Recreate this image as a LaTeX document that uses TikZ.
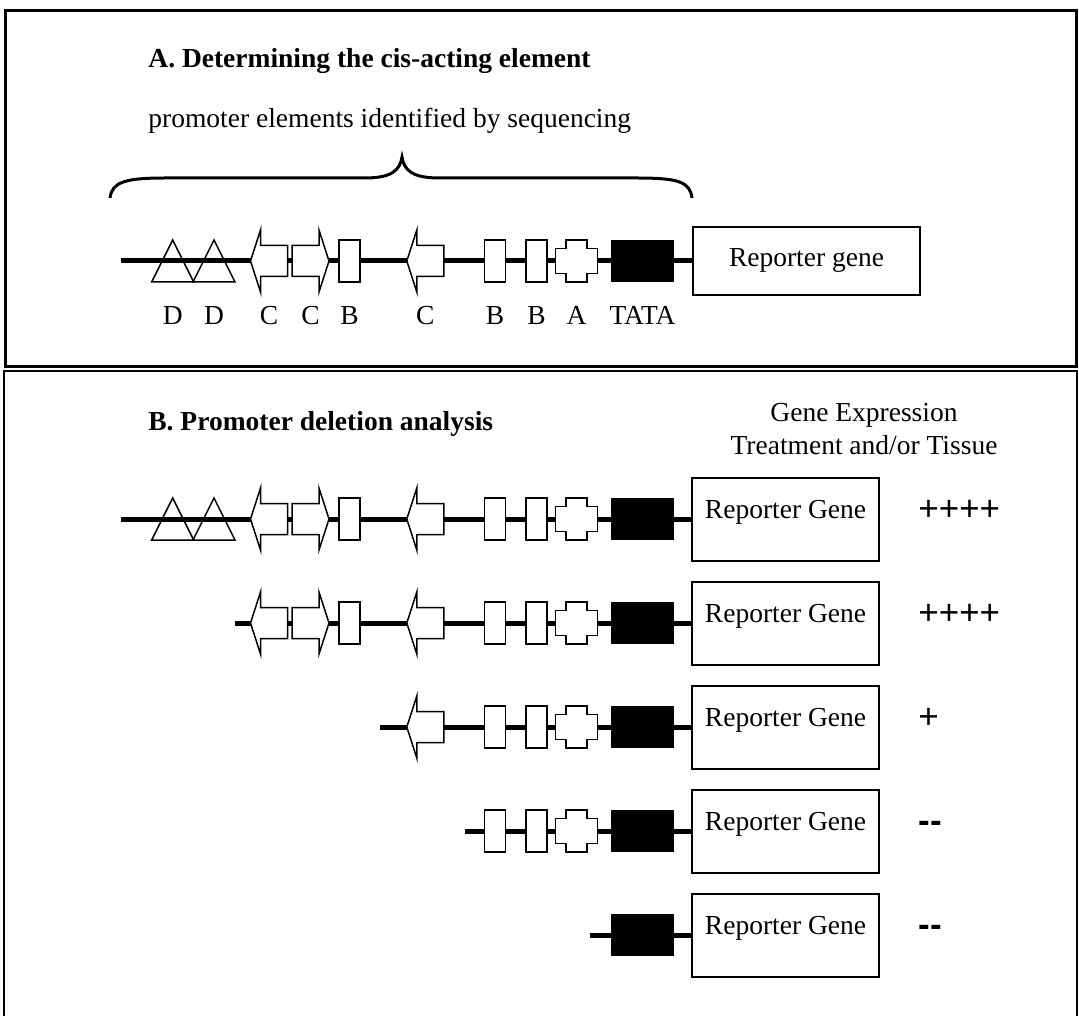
\documentclass[tikz,border=0pt]{standalone}
\usepackage{fontspec}
\setmainfont{Liberation Serif}
\newfontfamily\plusfont{Liberation Sans}
\usetikzlibrary{positioning,calc}
\newcommand{\labfont}{\fontsize{13.75}{16.5}\selectfont}
\newcommand{\pmfont}{\plusfont\fontsize{17.5}{20}\selectfont}
% element positions along the promoter (x / shape)
\def\elems{172.7/dtri,214/dtri,269/cleft,310.5/cright,349.5/bbox,425.3/cleft,495/bbox,536.5/bbox,576.5/across,642.5/tatabox}

\tikzset{
  dna/.style={line width=2.5pt},
  elem/.style={line width=0.75pt, fill=white},
  repbox/.style={draw, line width=1pt, minimum width=93.5pt, minimum height=41.5pt,
    text height=9pt, text depth=9.5pt, font=\labfont},
  txt/.style={inner sep=0pt, font=\labfont},
  pm/.style={inner sep=0pt, anchor=base west, font=\pmfont},
  dtri/.pic={\draw[line width=0.75pt] (-21,21) -- (0,-21) -- (21,21) -- cycle;},
  cleft/.pic={\draw[elem] (-18.5,0) -- (-8.5,-31) -- (-8.5,-15.5) -- (18.5,-15.5) -- (18.5,15.5) -- (-8.5,15.5) -- (-8.5,31) -- cycle;},
  cright/.pic={\draw[elem] (18.5,0) -- (8.5,-31) -- (8.5,-15.5) -- (-18.5,-15.5) -- (-18.5,15.5) -- (8.5,15.5) -- (8.5,31) -- cycle;},
  bbox/.pic={\draw[elem] (-10.5,-21) rectangle (10.5,21);},
  across/.pic={\draw[elem] (-21,-12.5) -- (-10.5,-12.5) -- (-10.5,-21) -- (10.5,-21) -- (10.5,-12.5) -- (21,-12.5) -- (21,12.5) -- (10.5,12.5) -- (10.5,21) -- (-10.5,21) -- (-10.5,12.5) -- (-21,12.5) -- cycle;},
  tatabox/.pic={\fill (-31.5,-21) rectangle (31.5,21);}
}

\begin{document}
\begin{tikzpicture}[x=0.5pt,y=-0.5pt]
\useasboundingbox (0,0) rectangle (1079,1015);
% frames
\draw[line width=1.5pt] (5,10.5) rectangle (1076,367);
\draw[line width=1pt] (4,1020) -- (4,371) -- (1077,371) -- (1077,1020);

% A. cis-acting element
\node[txt, anchor=base west, font=\labfont\bfseries] (titleA) at (148,68) {A. Determining the cis-acting element};
\node[txt, anchor=base west] (subA) at (148,128) {promoter elements identified by sequencing};
\draw[line width=1.5pt] (110,198) .. controls (112,182) and (125,178) .. (165,178) -- (365,178)
  .. controls (392,178) and (400,170) .. (402,157) .. controls (404,170) and (412,178) .. (439,178)
  -- (637,178) .. controls (679,178) and (690,182) .. (692,198);

\coordinate (sA) at (121,261);
\node[repbox, minimum width=113.5pt, minimum height=34pt, text depth=3pt] (repA) at (806.5,261) {Reporter gene};
\draw[dna] (sA) -- (repA);
\foreach \x/\e in \elems {\pic at (\x,261) {\e};}
\foreach \x/\t [count=\k] in {172.7/D,214/D,269/C,310.5/C,349.5/B,425.3/C,495/B,536.5/B,576.5/A,642.5/TATA}
  \node[txt, anchor=base] (lab\k) at (\x,325) {\t};

% B. deletion analysis
\node[txt, anchor=base west, font=\labfont\bfseries] (titleB) at (148,430) {B. Promoter deletion analysis};
\node[txt, anchor=base] (expr) at (864,421) {Gene Expression};
\node[txt, anchor=base] (treat) at (864,454) {Treatment and/or Tissue};

\foreach \y/\s/\m [count=\r] in {519/121/++++,623/235/++++,727/380/+,831/465/\bfseries-{}-,935/590/\bfseries-{}-} {
  \coordinate (s\r) at (\s,\y);
  \node[repbox] (rep\r) at (785.5,\y) {Reporter Gene};
  \draw[dna] (s\r) -- (rep\r);
  \foreach \x/\e in \elems {\ifdim \x pt>\s pt \pic at (\x,\y) {\e};\fi}
  \node[pm] (pm\r) at (918,\y+1.5) {\m};
}
\end{tikzpicture}
\end{document}
